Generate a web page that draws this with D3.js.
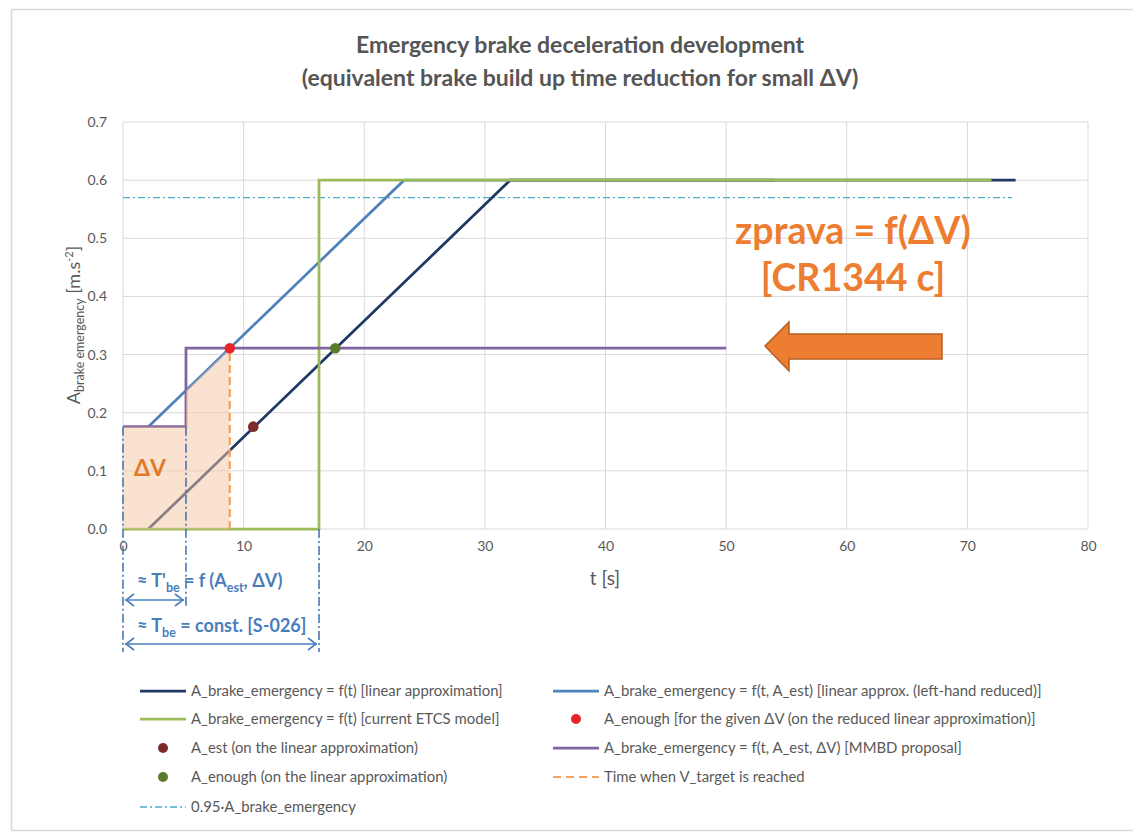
<!DOCTYPE html>
<html>
<head>
<meta charset="utf-8">
<script src="https://cdn.jsdelivr.net/npm/d3@7"></script>
<style>
  html, body { margin: 0; padding: 0; background: #fff; }
  svg { display: block; font-family: Lato, "Open Sans", sans-serif; }
</style>
</head>
<body>
<svg id="chart" width="1133" height="832"></svg>
<script>
// ---- data ----
const xTicks = [0, 10, 20, 30, 40, 50, 60, 70, 80];
const yTicks = [0.0, 0.1, 0.2, 0.3, 0.4, 0.5, 0.6, 0.7];

// A_brake_emergency = f(t) [linear approximation]
const linearT = [2.1, 32.1, 74];
const linearA = [0, 0.6, 0.6];
// A_brake_emergency = f(t) [current ETCS model]
const etcsT = [0, 16.25, 16.25, 72];
const etcsA = [0, 0, 0.6, 0.6];
// A_brake_emergency = f(t, A_est) [linear approx. (left-hand reduced)]
const reducedT = [2.1, 23.3, 54];
const reducedA = [0.176, 0.6, 0.6];
// A_brake_emergency = f(t, A_est, dV) [MMBD proposal]
const mmbdT = [0, 5.22, 5.22, 50];
const mmbdA = [0.176, 0.176, 0.311, 0.311];
// 0.95 * A_brake_emergency
const safetyT = [0, 73.7];
const safetyA = [0.57, 0.57];
// points
const estPoint = [10.8, 0.176];          // A_est
const enoughLinear = [17.6, 0.311];      // A_enough on linear approximation
const enoughReduced = [8.85, 0.311];     // A_enough on reduced approximation
const vTargetT = 8.85;                   // time when V_target is reached

const legendItems = [
  {col: 0, row: 0, kind: "line", color: "#1f3864", label: "A_brake_emergency = f(t) [linear approximation]"},
  {col: 0, row: 1, kind: "line", color: "#9bbb59", label: "A_brake_emergency = f(t) [current ETCS model]"},
  {col: 0, row: 2, kind: "dot",  color: "#7f2a2a", label: "A_est (on the linear approximation)"},
  {col: 0, row: 3, kind: "dot",  color: "#5b7a2b", label: "A_enough (on the linear approximation)"},
  {col: 0, row: 4, kind: "dashdot", color: "#4bacc6", label: "0.95·A_brake_emergency"},
  {col: 1, row: 0, kind: "line", color: "#4f81bd", label: "A_brake_emergency = f(t, A_est) [linear approx. (left-hand reduced)]"},
  {col: 1, row: 1, kind: "dot",  color: "#e8262a", label: "A_enough [for the given ΔV (on the reduced linear approximation)]"},
  {col: 1, row: 2, kind: "line", color: "#8064a2", label: "A_brake_emergency = f(t, A_est, ΔV) [MMBD proposal]"},
  {col: 1, row: 3, kind: "dash", color: "#f4a15d", label: "Time when V_target is reached"}
];

// ---- layout ----
const svg = d3.select("#chart");
const x = d3.scaleLinear().domain([0, 80]).range([123, 1088]);
const y = d3.scaleLinear().domain([0, 0.7]).range([529, 122]);
const zip = (ts, as) => ts.map((t, i) => [t, as[i]]);
const line = d3.line().x(d => x(d[0])).y(d => y(d[1]));
const interp = (ts, as, t) => {
  for (let i = 0; i < ts.length - 1; i++) {
    if (t >= ts[i] && t <= ts[i + 1] && ts[i + 1] > ts[i]) {
      return as[i] + (as[i + 1] - as[i]) * (t - ts[i]) / (ts[i + 1] - ts[i]);
    }
  }
  return as[as.length - 1];
};

// outer frame
svg.append("rect").attr("x", 11.5).attr("y", 9.5).attr("width", 1140).attr("height", 821)
  .attr("fill", "#fff").attr("stroke", "#d9d9d9").attr("stroke-width", 1.5);

// title
const title = svg.append("text").attr("text-anchor", "middle").attr("fill", "#555")
  .attr("font-weight", "bold").attr("font-size", 23);
title.append("tspan").attr("x", 580).attr("y", 53).text("Emergency brake deceleration development");
title.append("tspan").attr("x", 580).attr("y", 86).text("(equivalent brake build up time reduction for small ΔV)");

// gridlines
svg.append("g").selectAll("line").data(yTicks).join("line")
  .attr("x1", x(0)).attr("x2", x(80)).attr("y1", d => y(d)).attr("y2", d => y(d))
  .attr("stroke", "#d9d9d9").attr("stroke-width", 1);
svg.append("g").selectAll("line").data(xTicks).join("line")
  .attr("x1", d => x(d)).attr("x2", d => x(d)).attr("y1", y(0)).attr("y2", y(0.7))
  .attr("stroke", "#d9d9d9").attr("stroke-width", 1);

// axes (labels only, Excel style)
const yAxis = svg.append("g").attr("transform", `translate(${x(0)},0)`)
  .call(d3.axisLeft(y).tickValues(yTicks).tickFormat(d3.format(".1f")).tickSize(0).tickPadding(16));
const xAxis = svg.append("g").attr("transform", `translate(0,${y(0)})`)
  .call(d3.axisBottom(x).tickValues(xTicks).tickSize(0).tickPadding(12));
[xAxis, yAxis].forEach(a => {
  a.select(".domain").remove();
  a.selectAll("text").attr("fill", "#595959").attr("font-size", 14).attr("font-family", "Lato, sans-serif");
});

// axis titles
svg.append("text").attr("x", 605).attr("y", 585).attr("text-anchor", "middle")
  .attr("fill", "#595959").attr("font-size", 19).text("t [s]");
const yl = svg.append("text").attr("transform", "translate(80,325) rotate(-90)")
  .attr("text-anchor", "middle").attr("fill", "#595959").attr("font-size", 18);
yl.append("tspan").text("A");
yl.append("tspan").attr("font-size", 12.5).attr("dy", 4).text("brake emergency");
yl.append("tspan").attr("dy", -4).text(" [m.s");
yl.append("tspan").attr("font-size", 11).attr("dy", -7).text("-2");
yl.append("tspan").attr("dy", 7).text("]");

// 0.95 * A_brake_emergency
svg.append("path").datum(zip(safetyT, safetyA)).attr("d", line)
  .attr("fill", "none").attr("stroke", "#4bacc6").attr("stroke-width", 1.3)
  .attr("stroke-dasharray", "7,3,2,3");

// series lines
const series = [
  {pts: zip(reducedT, reducedA), color: "#4f81bd"},
  {pts: zip(linearT, linearA), color: "#1f3864"},
  {pts: zip(etcsT, etcsA), color: "#9bbb59"},
  {pts: zip(mmbdT, mmbdA), color: "#8064a2"}
];
svg.append("g").selectAll("path").data(series).join("path")
  .attr("d", d => line(d.pts)).attr("fill", "none")
  .attr("stroke", d => d.color).attr("stroke-width", 2.75).attr("stroke-linejoin", "miter");

// dV area: under the lower of MMBD step and reduced line, up to V_target time
const tStep = mmbdT[1];
const shade = [
  [0, 0],
  [0, mmbdA[0]],
  [tStep, mmbdA[1]],
  [tStep, interp(reducedT, reducedA, tStep)],
  [vTargetT, interp(reducedT, reducedA, vTargetT)],
  [vTargetT, 0]
];
svg.append("path").datum(shade).attr("d", line(shade) + "Z")
  .attr("fill", "#f6c6a4").attr("fill-opacity", 0.5).attr("stroke", "none");

// time when V_target is reached
svg.append("line").attr("x1", x(vTargetT)).attr("x2", x(vTargetT))
  .attr("y1", y(0)).attr("y2", y(enoughReduced[1]))
  .attr("stroke", "#f4a15d").attr("stroke-width", 2.2).attr("stroke-dasharray", "8,4");

// points
const dots = [
  {p: estPoint, color: "#7f2a2a"},
  {p: enoughLinear, color: "#5b7a2b"},
  {p: enoughReduced, color: "#e8262a"}
];
svg.append("g").selectAll("circle").data(dots).join("circle")
  .attr("cx", d => x(d.p[0])).attr("cy", d => y(d.p[1])).attr("r", 5.3)
  .attr("fill", d => d.color);

// build-up time markers below the axis
const annBlue = "#4a7ebb";
const markers = [
  {t: 0, top: mmbdA[0], bottom: 652},
  {t: tStep, top: mmbdA[0], bottom: 606},
  {t: etcsT[1], top: 0, bottom: 652}
];
svg.append("g").selectAll("line").data(markers).join("line")
  .attr("x1", d => x(d.t)).attr("x2", d => x(d.t))
  .attr("y1", d => y(d.top)).attr("y2", d => d.bottom)
  .attr("stroke", "#3f6fae").attr("stroke-width", 1.5).attr("stroke-dasharray", "9,3,2,3");

function doubleArrow(x1, x2, yy) {
  const g = svg.append("g").attr("stroke", annBlue).attr("stroke-width", 1.6).attr("fill", "none");
  g.append("line").attr("x1", x1).attr("x2", x2).attr("y1", yy).attr("y2", yy);
  g.append("path").attr("d", `M${x1 + 9},${yy - 6}L${x1 + 1},${yy}L${x1 + 9},${yy + 6}`);
  g.append("path").attr("d", `M${x2 - 9},${yy - 6}L${x2 - 1},${yy}L${x2 - 9},${yy + 6}`);
}
doubleArrow(x(0) + 2, x(tStep) - 2, 600);
doubleArrow(x(0) + 2, x(etcsT[1]) - 2, 644);

const t1 = svg.append("text").attr("x", 137).attr("y", 587).attr("fill", annBlue)
  .attr("font-weight", "bold").attr("font-size", 18);
t1.append("tspan").text("≈ T'");
t1.append("tspan").attr("font-size", 12.5).attr("dy", 5).text("be");
t1.append("tspan").attr("dy", -5).text(" = f (A");
t1.append("tspan").attr("font-size", 12.5).attr("dy", 5).text("est");
t1.append("tspan").attr("dy", -5).text(", ΔV)");

const t2 = svg.append("text").attr("x", 137).attr("y", 632).attr("fill", annBlue)
  .attr("font-weight", "bold").attr("font-size", 18);
t2.append("tspan").text("≈ T");
t2.append("tspan").attr("font-size", 12.5).attr("dy", 5).text("be");
t2.append("tspan").attr("dy", -5).text(" = const. [S-026]");

// dV label
svg.append("text").attr("x", 134).attr("y", 476).attr("fill", "#e07a2a")
  .attr("font-weight", "bold").attr("font-size", 23).text("ΔV");

// right-hand note and arrow
const note = svg.append("text").attr("text-anchor", "middle").attr("fill", "#ed7d31")
  .attr("font-weight", "bold").attr("font-size", 37.5);
note.append("tspan").attr("x", 853).attr("y", 244).text("zprava = f(ΔV)");
note.append("tspan").attr("x", 853).attr("y", 291).text("[CR1344 c]");

svg.append("path")
  .attr("d", "M765,346 L789,322 L789,334 L942,334 L942,359 L789,359 L789,371 Z")
  .attr("fill", "#ed7d31").attr("stroke", "#b65d22").attr("stroke-width", 1.5);

// legend
const legend = svg.append("g");
const colX = [140, 553];
const rowY = [691, 719, 748, 777, 807];
legendItems.forEach(it => {
  const lx = colX[it.col], ly = rowY[it.row];
  const g = legend.append("g");
  if (it.kind === "line") {
    g.append("line").attr("x1", lx).attr("x2", lx + 46).attr("y1", ly).attr("y2", ly)
      .attr("stroke", it.color).attr("stroke-width", 2.75);
  } else if (it.kind === "dot") {
    g.append("circle").attr("cx", lx + 23).attr("cy", ly).attr("r", 5).attr("fill", it.color);
  } else if (it.kind === "dashdot") {
    g.append("line").attr("x1", lx).attr("x2", lx + 46).attr("y1", ly).attr("y2", ly)
      .attr("stroke", it.color).attr("stroke-width", 1.5).attr("stroke-dasharray", "7,3,2,3");
  } else if (it.kind === "dash") {
    g.append("line").attr("x1", lx).attr("x2", lx + 46).attr("y1", ly).attr("y2", ly)
      .attr("stroke", it.color).attr("stroke-width", 2.2).attr("stroke-dasharray", "8,5");
  }
  g.append("text").attr("x", lx + 51).attr("y", ly + 5).attr("fill", "#595959")
    .attr("font-size", 14.9).text(it.label);
});
</script>
</body>
</html>
